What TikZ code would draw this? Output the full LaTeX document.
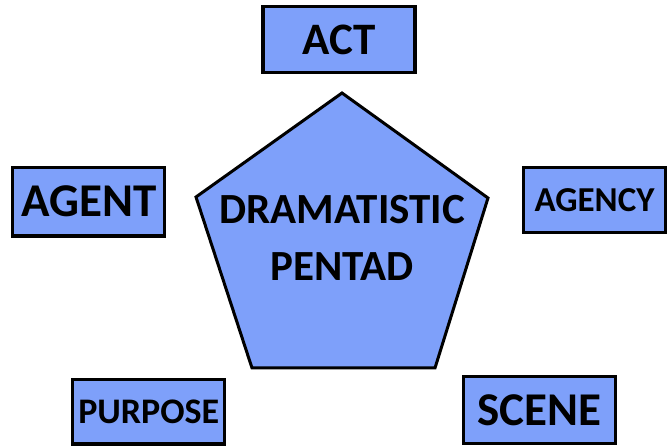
\documentclass[tikz,border=0pt]{standalone}
\usepackage{fontspec}
\setmainfont{Carlito}
\definecolor{pentblue}{RGB}{126,160,250}
\tikzset{
  term/.style={draw=black, line width=3.3pt, fill=pentblue, inner sep=0pt,
               font=\bfseries, text=black},
  hub/.style={draw=black, line width=3pt, fill=pentblue, line join=miter}
}
\newcommand{\fs}[1]{\fontsize{#1}{#1}\selectfont}
\begin{document}
\begin{tikzpicture}[x=1pt, y=-1pt]
  \useasboundingbox[fill=white] (0,0) rectangle (670,446);

  % central pentagon
  \coordinate (pt) at (342,93);
  \coordinate (pl) at (196,197);
  \coordinate (pr) at (488,198);
  \coordinate (pbl) at (252,368);
  \coordinate (pbr) at (435,368);
  \draw[hub] (pt) -- (pr) -- (pbr) -- (pbl) -- (pl) -- cycle;
  \node[font=\bfseries\fontsize{43}{57}\selectfont, align=center, text=black]
    (hubtext) at (342,237.5) {DRAMATISTIC\\PENTAD};

  % the five terms
  \node[term, minimum width=152pt, minimum height=66pt, font=\bfseries\fs{45}]
    (act) at (339,39.7) {ACT};
  \node[term, minimum width=152pt, minimum height=68.5pt, font=\bfseries\fs{47}]
    (agent) at (88.8,201.7) {AGENT};
  \node[term, minimum width=142pt, minimum height=65.5pt, font=\bfseries\fs{35}]
    (agency) at (594.5,200) {AGENCY};
  \node[term, minimum width=152pt, minimum height=64.5pt, font=\bfseries\fs{36}]
    (purpose) at (148.8,411.7) {PURPOSE};
  \node[term, minimum width=152pt, minimum height=66.5pt, font=\bfseries\fs{47}]
    (scene) at (539.5,410) {SCENE};
\end{tikzpicture}
\end{document}
